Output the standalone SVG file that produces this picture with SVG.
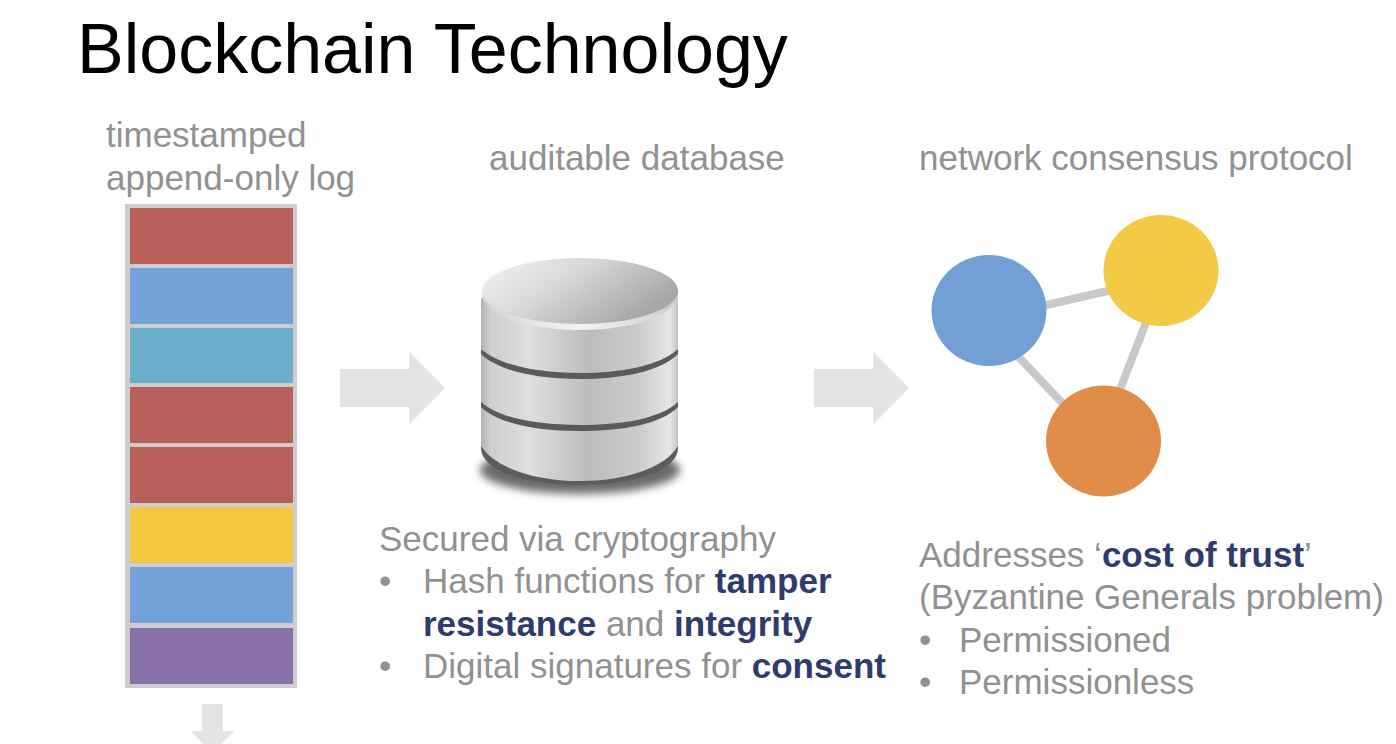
<svg xmlns="http://www.w3.org/2000/svg" width="1396" height="744" viewBox="0 0 1396 744">
<style>
text{font-family:"Liberation Sans",Arial,sans-serif}
.t{font-size:35px;fill:#919191}
.b{font-weight:bold;fill:#2f3b6c}
.arrow{fill:#e4e4e4}
.link{stroke:#c9c9c9;stroke-width:8;fill:none}
</style>
<defs>
<linearGradient id="side" x1="0" x2="1" y1="0" y2="0">
<stop offset="0" stop-color="#b4b4b4"/><stop offset=".05" stop-color="#cfcfcf"/><stop offset=".25" stop-color="#dedede"/><stop offset=".55" stop-color="#bcbcbc"/><stop offset=".8" stop-color="#cccccc"/><stop offset=".96" stop-color="#e6e6e6"/><stop offset="1" stop-color="#c4c4c4"/>
</linearGradient>
<linearGradient id="top" x1="0" x2="1" y1="0" y2=".5">
<stop offset="0" stop-color="#f4f4f4"/><stop offset=".45" stop-color="#d9d9d9"/><stop offset="1" stop-color="#a6a6a6"/>
</linearGradient>
<linearGradient id="rim" x1="0" x2="1" y1="0" y2="0">
<stop offset="0" stop-color="#d4d4d4"/><stop offset=".5" stop-color="#f4f4f4"/><stop offset="1" stop-color="#cccccc"/>
</linearGradient>
<filter id="blur" x="-20%" y="-50%" width="140%" height="200%"><feGaussianBlur stdDeviation="4"/></filter>
<filter id="soft" x="-5%" y="-20%" width="110%" height="140%"><feGaussianBlur stdDeviation=".7"/></filter>
</defs>
<rect width="1396" height="744" fill="#fff"/>
<text x="77" y="73" font-size="70" fill="#000">Blockchain Technology</text>
<g id="log">
<text class="t" x="106" y="147">timestamped</text>
<text class="t" x="106" y="190">append-only log</text>
<rect x="125" y="204" width="172" height="484" fill="#cdcdcd"/>
<rect x="130" y="208" width="163" height="56" fill="#b75f5a"/>
<rect x="130" y="268" width="163" height="56" fill="#74a1d8"/>
<rect x="130" y="328" width="163" height="55" fill="#6bb0ca"/>
<rect x="130" y="387" width="163" height="56" fill="#b75f5a"/>
<rect x="130" y="447" width="163" height="56" fill="#b75f5a"/>
<rect x="130" y="507" width="163" height="56" fill="#f5c842"/>
<rect x="130" y="567" width="163" height="56" fill="#74a1d8"/>
<rect x="130" y="628" width="163" height="56" fill="#8870a8"/>
</g>
<g id="connectors">
<polygon class="arrow" points="340,369 409,369 409,351 445,388 409,425 409,407 340,407"/>
<polygon class="arrow" points="814,369 873,369 873,351 909,388 873,425 873,407 814,407"/>
<polygon class="arrow" points="202,704 223,704 223,731 234,731 212,754 191,731 202,731"/>
<path class="link" d="M1040 306.500L1112 290M1015 353L1066 407M1147 320L1119 392"/>
</g>
<g id="database">
<ellipse cx="580" cy="470" rx="100" ry="24" fill="#6a6a6a" filter="url(#blur)"/>
<path d="M481 298V448C481 470 525 485 580 485C635 485 678 470 678 448V298Z" fill="#5c5c5c"/>
<path d="M481 298V446C495 468 535 481 580 481C625 481 665 468 678 446V298Z" fill="url(#side)"/>
<ellipse cx="580" cy="294" rx="98" ry="36" fill="url(#rim)"/>
<ellipse cx="580" cy="291" rx="98" ry="33" fill="url(#top)"/>
<g filter="url(#soft)">
<path d="M481 349C500 366 540 373 580 373C620 373 660 366 678 349V354C660 372 620 379 580 379C540 379 500 372 481 354Z" fill="#5a5a5a"/>
<path d="M481 402C500 419 540 425 580 425C620 425 660 419 678 402V407C660 425 620 431 580 431C540 431 500 425 481 407Z" fill="#5a5a5a"/>
</g>
<text class="t" x="489" y="170">auditable database</text>
</g>
<g id="secured">
<text class="t" x="379" y="551">Secured via cryptography</text>
<text class="t" x="379" y="593">•</text>
<text class="t" x="423" y="593">Hash functions for <tspan class="b">tamper</tspan></text>
<text class="t" x="423" y="636"><tspan class="b">resistance</tspan> and <tspan class="b">integrity</tspan></text>
<text class="t" x="379" y="678">•</text>
<text class="t" x="423" y="678">Digital signatures for <tspan class="b">consent</tspan></text>
</g>
<g id="network">
<text class="t" x="919" y="170">network consensus protocol</text>
</g>
<g id="node-blue"><ellipse cx="989" cy="310.500" rx="57.500" ry="55.500" fill="#729fd4"/></g>
<g id="node-yellow"><ellipse cx="1161" cy="270.500" rx="57.500" ry="55.500" fill="#f3ca45"/></g>
<g id="node-orange"><ellipse cx="1103.500" cy="441" rx="57.500" ry="55.500" fill="#df8d49"/></g>
<g id="trust">
<text class="t" x="919" y="567">Addresses ‘<tspan class="b">cost of trust</tspan>’</text>
<text class="t" x="919" y="609">(Byzantine Generals problem)</text>
<text class="t" x="919" y="652">•</text>
<text class="t" x="959" y="652">Permissioned</text>
<text class="t" x="919" y="694">•</text>
<text class="t" x="959" y="694">Permissionless</text>
</g>
</svg>
